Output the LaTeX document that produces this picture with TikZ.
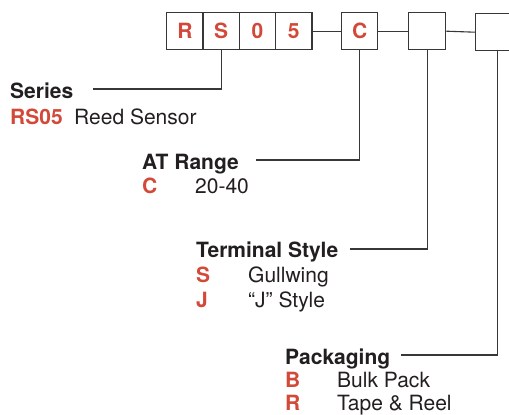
\documentclass[tikz,border=0pt]{standalone}
\usepackage{fontspec}
\setmainfont{TeX Gyre Heros}
\usetikzlibrary{positioning}
\definecolor{codered}{RGB}{211,73,57}
\definecolor{inkgray}{RGB}{35,31,32}
\definecolor{linegray}{RGB}{55,55,55}

\begin{document}
\begin{tikzpicture}[
    x=1pt, y=-1pt,
    every node/.style={inner sep=0pt, text=inkgray, font=\fontsize{21}{25}\selectfont},
    digit box/.style={draw=linegray, line width=1.4pt, minimum width=36.3pt, minimum height=37pt,
      anchor=north west, text=codered, font=\fontsize{21}{25}\selectfont\bfseries},
    head label/.style={anchor=base west, font=\fontsize{21}{25}\selectfont\bfseries},
    code label/.style={anchor=base west, text=codered, font=\fontsize{21}{25}\selectfont\bfseries},
    desc label/.style={anchor=base west},
    leader/.style={draw=linegray, line width=1.1pt}
  ]
    \useasboundingbox (0,0) rectangle (509,415);

    % Part number boxes
    \node[digit box] (boxR) at (166,12) {R};
    \node[digit box] (boxS) at (202.3,12) {S};
    \node[digit box] (box0) at (238.6,12) {0};
    \node[digit box] (box5) at (274.9,12) {5};
    \node[digit box, minimum width=36pt] (boxC) at (341,12) {C};
    \node[digit box, minimum width=37pt] (boxT) at (408,12) {};
    \node[digit box, minimum width=44pt] (boxP) at (475,13) {};

    \draw[leader] (box5.east) -- (boxC.west);
    \draw[leader] (boxC.east) -- (boxT.west);
    \draw[leader] (boxT.east) -- (boxP.west);

    % Series
    \node[head label] (series) at (10,98) {Series};
    \node[code label] (seriesA) at (10,124) {RS05};
    \node[desc label] (seriesAd) at (74,124) {Reed Sensor};
    \draw[leader] ([xshift=20pt, yshift=9pt]series.base east) -| (boxS.south);

    % AT range
    \node[head label] (atrange) at (142,169) {AT Range};
    \node[code label] (atA) at (142,193) {C};
    \node[desc label] (atAd) at (195,193) {20-40};
    \draw[leader] ([xshift=17pt, yshift=9pt]atrange.base east) -| (boxC.south);

    % Terminal style
    \node[head label] (term) at (196,257) {Terminal Style};
    \node[code label] (termA) at (196,282) {S};
    \node[desc label] (termAd) at (248,282) {Gullwing};
    \node[code label] (termB) at (196,307) {J};
    \node[desc label] (termBd) at (248,307) {“J” Style};
    \draw[leader] ([xshift=12pt, yshift=8pt]term.base east) -| (boxT.south);

    % Packaging
    \node[head label] (pack) at (285,364) {Packaging};
    \node[code label] (packA) at (285,387.5) {B};
    \node[desc label] (packAd) at (337,387.5) {Bulk Pack};
    \node[code label] (packB) at (285,410) {R};
    \node[desc label] (packBd) at (337,410) {Tape \& Reel};
    \draw[leader] ([xshift=11pt, yshift=9pt]pack.base east) -| (boxP.south);

  \end{tikzpicture}
\end{document}
